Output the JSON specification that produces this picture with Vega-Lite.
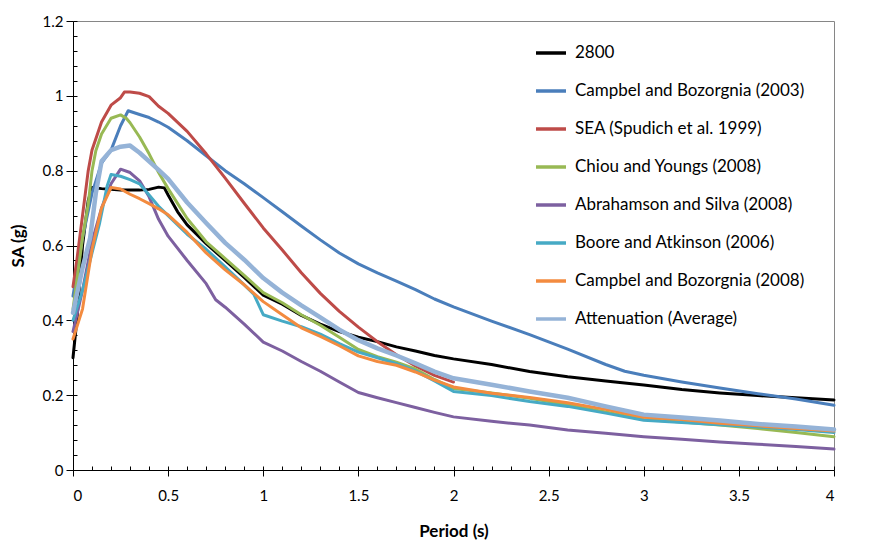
{
  "$schema": "https://vega.github.io/schema/vega-lite/v6.json",
  "autosize": "none",
  "width": 761,
  "height": 449,
  "padding": {"left": 73, "top": 21, "right": 52, "bottom": 90},
  "background": "white",
  "data": {
    "values": [
      {"s": "2800", "t": 0, "sa": 0.30}, {"s": "2800", "t": 0.02, "sa": 0.40}, {"s": "2800", "t": 0.05, "sa": 0.60}, {"s": "2800", "t": 0.08, "sa": 0.72}, {"s": "2800", "t": 0.1, "sa": 0.755}, {"s": "2800", "t": 0.15, "sa": 0.752}, {"s": "2800", "t": 0.2, "sa": 0.75}, {"s": "2800", "t": 0.25, "sa": 0.748}, {"s": "2800", "t": 0.3, "sa": 0.748}, {"s": "2800", "t": 0.35, "sa": 0.748}, {"s": "2800", "t": 0.4, "sa": 0.75}, {"s": "2800", "t": 0.45, "sa": 0.756}, {"s": "2800", "t": 0.48, "sa": 0.754}, {"s": "2800", "t": 0.5, "sa": 0.735}, {"s": "2800", "t": 0.55, "sa": 0.69}, {"s": "2800", "t": 0.6, "sa": 0.655}, {"s": "2800", "t": 0.7, "sa": 0.605}, {"s": "2800", "t": 0.8, "sa": 0.56}, {"s": "2800", "t": 0.9, "sa": 0.515}, {"s": "2800", "t": 1.0, "sa": 0.467}, {"s": "2800", "t": 1.1, "sa": 0.443}, {"s": "2800", "t": 1.2, "sa": 0.413}, {"s": "2800", "t": 1.3, "sa": 0.39}, {"s": "2800", "t": 1.4, "sa": 0.37}, {"s": "2800", "t": 1.5, "sa": 0.355}, {"s": "2800", "t": 1.6, "sa": 0.343}, {"s": "2800", "t": 1.7, "sa": 0.329}, {"s": "2800", "t": 1.8, "sa": 0.318}, {"s": "2800", "t": 1.9, "sa": 0.306}, {"s": "2800", "t": 2.0, "sa": 0.297}, {"s": "2800", "t": 2.2, "sa": 0.282}, {"s": "2800", "t": 2.4, "sa": 0.263}, {"s": "2800", "t": 2.6, "sa": 0.249}, {"s": "2800", "t": 2.8, "sa": 0.238}, {"s": "2800", "t": 3.0, "sa": 0.227}, {"s": "2800", "t": 3.2, "sa": 0.215}, {"s": "2800", "t": 3.4, "sa": 0.206}, {"s": "2800", "t": 3.6, "sa": 0.199}, {"s": "2800", "t": 3.8, "sa": 0.193}, {"s": "2800", "t": 4.0, "sa": 0.187},

      {"s": "Campbel and Bozorgnia (2003)", "t": 0, "sa": 0.465}, {"s": "Campbel and Bozorgnia (2003)", "t": 0.05, "sa": 0.62}, {"s": "Campbel and Bozorgnia (2003)", "t": 0.1, "sa": 0.74}, {"s": "Campbel and Bozorgnia (2003)", "t": 0.15, "sa": 0.82}, {"s": "Campbel and Bozorgnia (2003)", "t": 0.2, "sa": 0.855}, {"s": "Campbel and Bozorgnia (2003)", "t": 0.25, "sa": 0.92}, {"s": "Campbel and Bozorgnia (2003)", "t": 0.29, "sa": 0.96}, {"s": "Campbel and Bozorgnia (2003)", "t": 0.35, "sa": 0.95}, {"s": "Campbel and Bozorgnia (2003)", "t": 0.4, "sa": 0.942}, {"s": "Campbel and Bozorgnia (2003)", "t": 0.45, "sa": 0.93}, {"s": "Campbel and Bozorgnia (2003)", "t": 0.5, "sa": 0.916}, {"s": "Campbel and Bozorgnia (2003)", "t": 0.6, "sa": 0.88}, {"s": "Campbel and Bozorgnia (2003)", "t": 0.7, "sa": 0.84}, {"s": "Campbel and Bozorgnia (2003)", "t": 0.8, "sa": 0.80}, {"s": "Campbel and Bozorgnia (2003)", "t": 0.9, "sa": 0.765}, {"s": "Campbel and Bozorgnia (2003)", "t": 1.0, "sa": 0.728}, {"s": "Campbel and Bozorgnia (2003)", "t": 1.1, "sa": 0.69}, {"s": "Campbel and Bozorgnia (2003)", "t": 1.2, "sa": 0.652}, {"s": "Campbel and Bozorgnia (2003)", "t": 1.3, "sa": 0.615}, {"s": "Campbel and Bozorgnia (2003)", "t": 1.4, "sa": 0.58}, {"s": "Campbel and Bozorgnia (2003)", "t": 1.5, "sa": 0.551}, {"s": "Campbel and Bozorgnia (2003)", "t": 1.6, "sa": 0.527}, {"s": "Campbel and Bozorgnia (2003)", "t": 1.7, "sa": 0.505}, {"s": "Campbel and Bozorgnia (2003)", "t": 1.8, "sa": 0.482}, {"s": "Campbel and Bozorgnia (2003)", "t": 1.9, "sa": 0.457}, {"s": "Campbel and Bozorgnia (2003)", "t": 2.0, "sa": 0.436}, {"s": "Campbel and Bozorgnia (2003)", "t": 2.2, "sa": 0.398}, {"s": "Campbel and Bozorgnia (2003)", "t": 2.4, "sa": 0.362}, {"s": "Campbel and Bozorgnia (2003)", "t": 2.6, "sa": 0.323}, {"s": "Campbel and Bozorgnia (2003)", "t": 2.8, "sa": 0.282}, {"s": "Campbel and Bozorgnia (2003)", "t": 2.9, "sa": 0.264}, {"s": "Campbel and Bozorgnia (2003)", "t": 3.0, "sa": 0.253}, {"s": "Campbel and Bozorgnia (2003)", "t": 3.2, "sa": 0.235}, {"s": "Campbel and Bozorgnia (2003)", "t": 3.4, "sa": 0.219}, {"s": "Campbel and Bozorgnia (2003)", "t": 3.6, "sa": 0.204}, {"s": "Campbel and Bozorgnia (2003)", "t": 3.8, "sa": 0.19}, {"s": "Campbel and Bozorgnia (2003)", "t": 4.0, "sa": 0.173},

      {"s": "SEA (Spudich et al. 1999)", "t": 0, "sa": 0.49}, {"s": "SEA (Spudich et al. 1999)", "t": 0.02, "sa": 0.56}, {"s": "SEA (Spudich et al. 1999)", "t": 0.05, "sa": 0.68}, {"s": "SEA (Spudich et al. 1999)", "t": 0.08, "sa": 0.80}, {"s": "SEA (Spudich et al. 1999)", "t": 0.1, "sa": 0.855}, {"s": "SEA (Spudich et al. 1999)", "t": 0.15, "sa": 0.93}, {"s": "SEA (Spudich et al. 1999)", "t": 0.2, "sa": 0.975}, {"s": "SEA (Spudich et al. 1999)", "t": 0.25, "sa": 0.995}, {"s": "SEA (Spudich et al. 1999)", "t": 0.27, "sa": 1.01}, {"s": "SEA (Spudich et al. 1999)", "t": 0.3, "sa": 1.01}, {"s": "SEA (Spudich et al. 1999)", "t": 0.35, "sa": 1.007}, {"s": "SEA (Spudich et al. 1999)", "t": 0.4, "sa": 0.998}, {"s": "SEA (Spudich et al. 1999)", "t": 0.45, "sa": 0.972}, {"s": "SEA (Spudich et al. 1999)", "t": 0.5, "sa": 0.953}, {"s": "SEA (Spudich et al. 1999)", "t": 0.6, "sa": 0.905}, {"s": "SEA (Spudich et al. 1999)", "t": 0.7, "sa": 0.845}, {"s": "SEA (Spudich et al. 1999)", "t": 0.8, "sa": 0.78}, {"s": "SEA (Spudich et al. 1999)", "t": 0.9, "sa": 0.713}, {"s": "SEA (Spudich et al. 1999)", "t": 1.0, "sa": 0.647}, {"s": "SEA (Spudich et al. 1999)", "t": 1.1, "sa": 0.588}, {"s": "SEA (Spudich et al. 1999)", "t": 1.2, "sa": 0.527}, {"s": "SEA (Spudich et al. 1999)", "t": 1.3, "sa": 0.472}, {"s": "SEA (Spudich et al. 1999)", "t": 1.4, "sa": 0.424}, {"s": "SEA (Spudich et al. 1999)", "t": 1.5, "sa": 0.382}, {"s": "SEA (Spudich et al. 1999)", "t": 1.6, "sa": 0.343}, {"s": "SEA (Spudich et al. 1999)", "t": 1.7, "sa": 0.308}, {"s": "SEA (Spudich et al. 1999)", "t": 1.8, "sa": 0.278}, {"s": "SEA (Spudich et al. 1999)", "t": 1.9, "sa": 0.253}, {"s": "SEA (Spudich et al. 1999)", "t": 2.0, "sa": 0.235},

      {"s": "Chiou and Youngs (2008)", "t": 0, "sa": 0.43}, {"s": "Chiou and Youngs (2008)", "t": 0.05, "sa": 0.62}, {"s": "Chiou and Youngs (2008)", "t": 0.08, "sa": 0.71}, {"s": "Chiou and Youngs (2008)", "t": 0.1, "sa": 0.80}, {"s": "Chiou and Youngs (2008)", "t": 0.12, "sa": 0.853}, {"s": "Chiou and Youngs (2008)", "t": 0.15, "sa": 0.898}, {"s": "Chiou and Youngs (2008)", "t": 0.2, "sa": 0.94}, {"s": "Chiou and Youngs (2008)", "t": 0.25, "sa": 0.949}, {"s": "Chiou and Youngs (2008)", "t": 0.28, "sa": 0.94}, {"s": "Chiou and Youngs (2008)", "t": 0.3, "sa": 0.928}, {"s": "Chiou and Youngs (2008)", "t": 0.35, "sa": 0.89}, {"s": "Chiou and Youngs (2008)", "t": 0.4, "sa": 0.845}, {"s": "Chiou and Youngs (2008)", "t": 0.45, "sa": 0.795}, {"s": "Chiou and Youngs (2008)", "t": 0.5, "sa": 0.752}, {"s": "Chiou and Youngs (2008)", "t": 0.6, "sa": 0.672}, {"s": "Chiou and Youngs (2008)", "t": 0.7, "sa": 0.61}, {"s": "Chiou and Youngs (2008)", "t": 0.8, "sa": 0.565}, {"s": "Chiou and Youngs (2008)", "t": 0.9, "sa": 0.52}, {"s": "Chiou and Youngs (2008)", "t": 1.0, "sa": 0.474}, {"s": "Chiou and Youngs (2008)", "t": 1.1, "sa": 0.447}, {"s": "Chiou and Youngs (2008)", "t": 1.2, "sa": 0.415}, {"s": "Chiou and Youngs (2008)", "t": 1.3, "sa": 0.387}, {"s": "Chiou and Youngs (2008)", "t": 1.4, "sa": 0.355}, {"s": "Chiou and Youngs (2008)", "t": 1.5, "sa": 0.322}, {"s": "Chiou and Youngs (2008)", "t": 1.6, "sa": 0.303}, {"s": "Chiou and Youngs (2008)", "t": 1.7, "sa": 0.288}, {"s": "Chiou and Youngs (2008)", "t": 1.8, "sa": 0.27}, {"s": "Chiou and Youngs (2008)", "t": 1.9, "sa": 0.242}, {"s": "Chiou and Youngs (2008)", "t": 2.0, "sa": 0.218}, {"s": "Chiou and Youngs (2008)", "t": 2.2, "sa": 0.206}, {"s": "Chiou and Youngs (2008)", "t": 2.4, "sa": 0.192}, {"s": "Chiou and Youngs (2008)", "t": 2.6, "sa": 0.174}, {"s": "Chiou and Youngs (2008)", "t": 2.8, "sa": 0.155}, {"s": "Chiou and Youngs (2008)", "t": 3.0, "sa": 0.135}, {"s": "Chiou and Youngs (2008)", "t": 3.2, "sa": 0.128}, {"s": "Chiou and Youngs (2008)", "t": 3.4, "sa": 0.12}, {"s": "Chiou and Youngs (2008)", "t": 3.6, "sa": 0.111}, {"s": "Chiou and Youngs (2008)", "t": 3.8, "sa": 0.1}, {"s": "Chiou and Youngs (2008)", "t": 4.0, "sa": 0.089},

      {"s": "Abrahamson and Silva (2008)", "t": 0, "sa": 0.37}, {"s": "Abrahamson and Silva (2008)", "t": 0.05, "sa": 0.48}, {"s": "Abrahamson and Silva (2008)", "t": 0.1, "sa": 0.61}, {"s": "Abrahamson and Silva (2008)", "t": 0.15, "sa": 0.70}, {"s": "Abrahamson and Silva (2008)", "t": 0.2, "sa": 0.765}, {"s": "Abrahamson and Silva (2008)", "t": 0.25, "sa": 0.804}, {"s": "Abrahamson and Silva (2008)", "t": 0.3, "sa": 0.795}, {"s": "Abrahamson and Silva (2008)", "t": 0.35, "sa": 0.773}, {"s": "Abrahamson and Silva (2008)", "t": 0.4, "sa": 0.73}, {"s": "Abrahamson and Silva (2008)", "t": 0.45, "sa": 0.67}, {"s": "Abrahamson and Silva (2008)", "t": 0.5, "sa": 0.625}, {"s": "Abrahamson and Silva (2008)", "t": 0.6, "sa": 0.56}, {"s": "Abrahamson and Silva (2008)", "t": 0.7, "sa": 0.498}, {"s": "Abrahamson and Silva (2008)", "t": 0.75, "sa": 0.455}, {"s": "Abrahamson and Silva (2008)", "t": 0.8, "sa": 0.435}, {"s": "Abrahamson and Silva (2008)", "t": 0.9, "sa": 0.39}, {"s": "Abrahamson and Silva (2008)", "t": 1.0, "sa": 0.342}, {"s": "Abrahamson and Silva (2008)", "t": 1.1, "sa": 0.318}, {"s": "Abrahamson and Silva (2008)", "t": 1.2, "sa": 0.29}, {"s": "Abrahamson and Silva (2008)", "t": 1.3, "sa": 0.264}, {"s": "Abrahamson and Silva (2008)", "t": 1.4, "sa": 0.235}, {"s": "Abrahamson and Silva (2008)", "t": 1.5, "sa": 0.207}, {"s": "Abrahamson and Silva (2008)", "t": 1.6, "sa": 0.193}, {"s": "Abrahamson and Silva (2008)", "t": 1.7, "sa": 0.18}, {"s": "Abrahamson and Silva (2008)", "t": 1.8, "sa": 0.167}, {"s": "Abrahamson and Silva (2008)", "t": 1.9, "sa": 0.154}, {"s": "Abrahamson and Silva (2008)", "t": 2.0, "sa": 0.142}, {"s": "Abrahamson and Silva (2008)", "t": 2.2, "sa": 0.13}, {"s": "Abrahamson and Silva (2008)", "t": 2.4, "sa": 0.12}, {"s": "Abrahamson and Silva (2008)", "t": 2.6, "sa": 0.107}, {"s": "Abrahamson and Silva (2008)", "t": 2.8, "sa": 0.098}, {"s": "Abrahamson and Silva (2008)", "t": 3.0, "sa": 0.089}, {"s": "Abrahamson and Silva (2008)", "t": 3.2, "sa": 0.082}, {"s": "Abrahamson and Silva (2008)", "t": 3.4, "sa": 0.075}, {"s": "Abrahamson and Silva (2008)", "t": 3.6, "sa": 0.069}, {"s": "Abrahamson and Silva (2008)", "t": 3.8, "sa": 0.063}, {"s": "Abrahamson and Silva (2008)", "t": 4.0, "sa": 0.056},

      {"s": "Boore and Atkinson (2006)", "t": 0, "sa": 0.40}, {"s": "Boore and Atkinson (2006)", "t": 0.05, "sa": 0.48}, {"s": "Boore and Atkinson (2006)", "t": 0.1, "sa": 0.58}, {"s": "Boore and Atkinson (2006)", "t": 0.14, "sa": 0.66}, {"s": "Boore and Atkinson (2006)", "t": 0.18, "sa": 0.76}, {"s": "Boore and Atkinson (2006)", "t": 0.2, "sa": 0.79}, {"s": "Boore and Atkinson (2006)", "t": 0.25, "sa": 0.785}, {"s": "Boore and Atkinson (2006)", "t": 0.3, "sa": 0.776}, {"s": "Boore and Atkinson (2006)", "t": 0.35, "sa": 0.765}, {"s": "Boore and Atkinson (2006)", "t": 0.4, "sa": 0.735}, {"s": "Boore and Atkinson (2006)", "t": 0.45, "sa": 0.705}, {"s": "Boore and Atkinson (2006)", "t": 0.5, "sa": 0.68}, {"s": "Boore and Atkinson (2006)", "t": 0.6, "sa": 0.63}, {"s": "Boore and Atkinson (2006)", "t": 0.7, "sa": 0.59}, {"s": "Boore and Atkinson (2006)", "t": 0.8, "sa": 0.543}, {"s": "Boore and Atkinson (2006)", "t": 0.9, "sa": 0.495}, {"s": "Boore and Atkinson (2006)", "t": 0.95, "sa": 0.47}, {"s": "Boore and Atkinson (2006)", "t": 1.0, "sa": 0.415}, {"s": "Boore and Atkinson (2006)", "t": 1.1, "sa": 0.398}, {"s": "Boore and Atkinson (2006)", "t": 1.2, "sa": 0.383}, {"s": "Boore and Atkinson (2006)", "t": 1.3, "sa": 0.363}, {"s": "Boore and Atkinson (2006)", "t": 1.4, "sa": 0.338}, {"s": "Boore and Atkinson (2006)", "t": 1.5, "sa": 0.315}, {"s": "Boore and Atkinson (2006)", "t": 1.6, "sa": 0.30}, {"s": "Boore and Atkinson (2006)", "t": 1.7, "sa": 0.284}, {"s": "Boore and Atkinson (2006)", "t": 1.8, "sa": 0.265}, {"s": "Boore and Atkinson (2006)", "t": 1.9, "sa": 0.238}, {"s": "Boore and Atkinson (2006)", "t": 2.0, "sa": 0.21}, {"s": "Boore and Atkinson (2006)", "t": 2.2, "sa": 0.199}, {"s": "Boore and Atkinson (2006)", "t": 2.4, "sa": 0.183}, {"s": "Boore and Atkinson (2006)", "t": 2.6, "sa": 0.17}, {"s": "Boore and Atkinson (2006)", "t": 2.8, "sa": 0.152}, {"s": "Boore and Atkinson (2006)", "t": 3.0, "sa": 0.133}, {"s": "Boore and Atkinson (2006)", "t": 3.2, "sa": 0.127}, {"s": "Boore and Atkinson (2006)", "t": 3.4, "sa": 0.121}, {"s": "Boore and Atkinson (2006)", "t": 3.6, "sa": 0.115}, {"s": "Boore and Atkinson (2006)", "t": 3.8, "sa": 0.108}, {"s": "Boore and Atkinson (2006)", "t": 4.0, "sa": 0.10},

      {"s": "Campbel and Bozorgnia (2008)", "t": 0, "sa": 0.35}, {"s": "Campbel and Bozorgnia (2008)", "t": 0.05, "sa": 0.43}, {"s": "Campbel and Bozorgnia (2008)", "t": 0.1, "sa": 0.59}, {"s": "Campbel and Bozorgnia (2008)", "t": 0.15, "sa": 0.70}, {"s": "Campbel and Bozorgnia (2008)", "t": 0.2, "sa": 0.755}, {"s": "Campbel and Bozorgnia (2008)", "t": 0.25, "sa": 0.751}, {"s": "Campbel and Bozorgnia (2008)", "t": 0.3, "sa": 0.737}, {"s": "Campbel and Bozorgnia (2008)", "t": 0.35, "sa": 0.725}, {"s": "Campbel and Bozorgnia (2008)", "t": 0.4, "sa": 0.712}, {"s": "Campbel and Bozorgnia (2008)", "t": 0.45, "sa": 0.698}, {"s": "Campbel and Bozorgnia (2008)", "t": 0.5, "sa": 0.682}, {"s": "Campbel and Bozorgnia (2008)", "t": 0.6, "sa": 0.635}, {"s": "Campbel and Bozorgnia (2008)", "t": 0.7, "sa": 0.58}, {"s": "Campbel and Bozorgnia (2008)", "t": 0.8, "sa": 0.535}, {"s": "Campbel and Bozorgnia (2008)", "t": 0.9, "sa": 0.495}, {"s": "Campbel and Bozorgnia (2008)", "t": 1.0, "sa": 0.45}, {"s": "Campbel and Bozorgnia (2008)", "t": 1.1, "sa": 0.415}, {"s": "Campbel and Bozorgnia (2008)", "t": 1.2, "sa": 0.38}, {"s": "Campbel and Bozorgnia (2008)", "t": 1.3, "sa": 0.357}, {"s": "Campbel and Bozorgnia (2008)", "t": 1.4, "sa": 0.332}, {"s": "Campbel and Bozorgnia (2008)", "t": 1.5, "sa": 0.305}, {"s": "Campbel and Bozorgnia (2008)", "t": 1.6, "sa": 0.29}, {"s": "Campbel and Bozorgnia (2008)", "t": 1.7, "sa": 0.28}, {"s": "Campbel and Bozorgnia (2008)", "t": 1.8, "sa": 0.262}, {"s": "Campbel and Bozorgnia (2008)", "t": 1.9, "sa": 0.24}, {"s": "Campbel and Bozorgnia (2008)", "t": 2.0, "sa": 0.222}, {"s": "Campbel and Bozorgnia (2008)", "t": 2.2, "sa": 0.205}, {"s": "Campbel and Bozorgnia (2008)", "t": 2.4, "sa": 0.194}, {"s": "Campbel and Bozorgnia (2008)", "t": 2.6, "sa": 0.18}, {"s": "Campbel and Bozorgnia (2008)", "t": 2.8, "sa": 0.162}, {"s": "Campbel and Bozorgnia (2008)", "t": 3.0, "sa": 0.141}, {"s": "Campbel and Bozorgnia (2008)", "t": 3.2, "sa": 0.135}, {"s": "Campbel and Bozorgnia (2008)", "t": 3.4, "sa": 0.125}, {"s": "Campbel and Bozorgnia (2008)", "t": 3.6, "sa": 0.118}, {"s": "Campbel and Bozorgnia (2008)", "t": 3.8, "sa": 0.111}, {"s": "Campbel and Bozorgnia (2008)", "t": 4.0, "sa": 0.104},

      {"s": "Attenuation (Average)", "t": 0, "sa": 0.42}, {"s": "Attenuation (Average)", "t": 0.05, "sa": 0.54}, {"s": "Attenuation (Average)", "t": 0.09, "sa": 0.62}, {"s": "Attenuation (Average)", "t": 0.12, "sa": 0.74}, {"s": "Attenuation (Average)", "t": 0.15, "sa": 0.825}, {"s": "Attenuation (Average)", "t": 0.2, "sa": 0.855}, {"s": "Attenuation (Average)", "t": 0.25, "sa": 0.864}, {"s": "Attenuation (Average)", "t": 0.3, "sa": 0.867}, {"s": "Attenuation (Average)", "t": 0.35, "sa": 0.848}, {"s": "Attenuation (Average)", "t": 0.4, "sa": 0.825}, {"s": "Attenuation (Average)", "t": 0.45, "sa": 0.802}, {"s": "Attenuation (Average)", "t": 0.5, "sa": 0.778}, {"s": "Attenuation (Average)", "t": 0.6, "sa": 0.715}, {"s": "Attenuation (Average)", "t": 0.7, "sa": 0.66}, {"s": "Attenuation (Average)", "t": 0.8, "sa": 0.607}, {"s": "Attenuation (Average)", "t": 0.9, "sa": 0.562}, {"s": "Attenuation (Average)", "t": 1.0, "sa": 0.513}, {"s": "Attenuation (Average)", "t": 1.1, "sa": 0.474}, {"s": "Attenuation (Average)", "t": 1.2, "sa": 0.44}, {"s": "Attenuation (Average)", "t": 1.3, "sa": 0.408}, {"s": "Attenuation (Average)", "t": 1.4, "sa": 0.375}, {"s": "Attenuation (Average)", "t": 1.5, "sa": 0.347}, {"s": "Attenuation (Average)", "t": 1.6, "sa": 0.325}, {"s": "Attenuation (Average)", "t": 1.7, "sa": 0.306}, {"s": "Attenuation (Average)", "t": 1.8, "sa": 0.285}, {"s": "Attenuation (Average)", "t": 1.9, "sa": 0.263}, {"s": "Attenuation (Average)", "t": 2.0, "sa": 0.245}, {"s": "Attenuation (Average)", "t": 2.2, "sa": 0.228}, {"s": "Attenuation (Average)", "t": 2.4, "sa": 0.21}, {"s": "Attenuation (Average)", "t": 2.6, "sa": 0.193}, {"s": "Attenuation (Average)", "t": 2.8, "sa": 0.17}, {"s": "Attenuation (Average)", "t": 3.0, "sa": 0.148}, {"s": "Attenuation (Average)", "t": 3.2, "sa": 0.14}, {"s": "Attenuation (Average)", "t": 3.4, "sa": 0.132}, {"s": "Attenuation (Average)", "t": 3.6, "sa": 0.123}, {"s": "Attenuation (Average)", "t": 3.8, "sa": 0.116}, {"s": "Attenuation (Average)", "t": 4.0, "sa": 0.108}
    ]
  },
  "layer": [
    {
      "mark": {"type": "line", "strokeJoin": "round", "strokeCap": "round"},
      "encoding": {
        "x": {
          "field": "t",
          "type": "quantitative",
          "title": "Period (s)",
          "scale": {"domain": [0, 4], "nice": false, "zero": false},
          "axis": {
            "values": [0, 0.5, 1, 1.5, 2, 2.5, 3, 3.5, 4],
            "format": "~g",
            "grid": false,
            "tickSize": 6,
            "labelPadding": 12,
            "titleY": 61,
            "titleBaseline": "middle"
          }
        },
        "y": {
          "field": "sa",
          "type": "quantitative",
          "title": "SA (g)",
          "scale": {"domain": [0, 1.2], "nice": false},
          "axis": {
            "values": [0, 0.2, 0.4, 0.6, 0.8, 1, 1.2],
            "format": "~g",
            "grid": false,
            "tickSize": 7,
            "labelPadding": 3,
            "titleX": -55,
            "titleBaseline": "middle"
          }
        },
        "color": {
          "field": "s",
          "type": "nominal",
          "title": null,
          "scale": {
            "domain": ["2800", "Campbel and Bozorgnia (2003)", "SEA (Spudich et al. 1999)", "Chiou and Youngs (2008)", "Abrahamson and Silva (2008)", "Boore and Atkinson (2006)", "Campbel and Bozorgnia (2008)", "Attenuation (Average)"],
            "range": ["#000000", "#4A7EBB", "#BE4B48", "#98B954", "#7D60A0", "#46AAC5", "#F38B3F", "#95B3D7"]
          },
          "legend": {
            "orient": "none",
            "legendX": 461,
            "legendY": 15,
            "symbolType": "stroke",
            "symbolSize": 900,
            "symbolStrokeWidth": 3.5,
            "labelOffset": 7,
            "rowPadding": 13,
            "labelFontSize": 17,
            "labelFont": "Lato",
            "labelColor": "#000000",
            "labelLimit": 400
          }
        },
        "strokeWidth": {
          "condition": {"test": "datum.s === 'Attenuation (Average)'", "value": 4.5},
          "value": 3
        }
      }
    },
    {
      "mark": {"type": "point", "opacity": 0},
      "encoding": {
        "x": {
          "field": "t",
          "type": "quantitative",
          "axis": {
            "orient": "bottom",
            "values": [0, 0.1, 0.2, 0.3, 0.4, 0.5, 0.6, 0.7, 0.8, 0.9, 1, 1.1, 1.2, 1.3, 1.4, 1.5, 1.6, 1.7, 1.8, 1.9, 2, 2.1, 2.2, 2.3, 2.4, 2.5, 2.6, 2.7, 2.8, 2.9, 3, 3.1, 3.2, 3.3, 3.4, 3.5, 3.6, 3.7, 3.8, 3.9, 4],
            "labels": false,
            "domain": false,
            "grid": false,
            "title": null,
            "tickSize": -4
          }
        },
        "y": {
          "field": "sa",
          "type": "quantitative",
          "axis": {
            "orient": "left",
            "values": [0, 0.04, 0.08, 0.12, 0.16, 0.2, 0.24, 0.28, 0.32, 0.36, 0.4, 0.44, 0.48, 0.52, 0.56, 0.6, 0.64, 0.68, 0.72, 0.76, 0.8, 0.84, 0.88, 0.92, 0.96, 1, 1.04, 1.08, 1.12, 1.16, 1.2],
            "labels": false,
            "domain": false,
            "grid": false,
            "title": null,
            "tickSize": -4
          }
        }
      }
    }
  ],
  "resolve": {"axis": {"x": "independent", "y": "independent"}},
  "config": {
    "font": "Lato",
    "view": {"stroke": "#868686", "strokeWidth": 1},
    "axis": {
      "domainColor": "#000000",
      "domainWidth": 1,
      "tickColor": "#000000",
      "tickWidth": 1,
      "labelFont": "Lato",
      "labelFontSize": 15,
      "labelColor": "#000000",
      "titleFont": "Lato",
      "titleFontSize": 17,
      "titleFontWeight": "bold",
      "titleColor": "#000000"
    },
    "legend": {"padding": 0}
  }
}
